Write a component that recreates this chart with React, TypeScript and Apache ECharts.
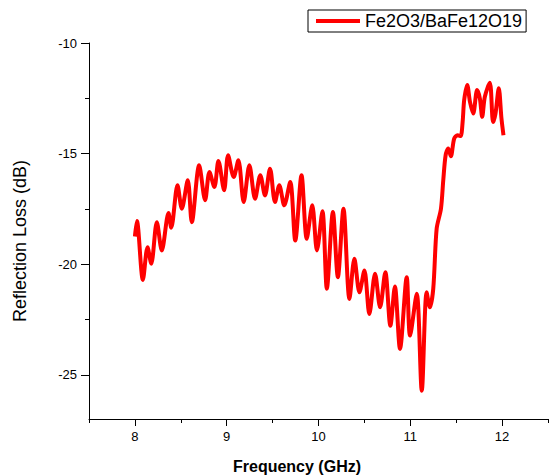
import React, { useEffect, useRef } from "react";
import * as echarts from "echarts";

const frequencyGHz = [
  8.0, 8.022, 8.087, 8.138, 8.178, 8.239, 8.293, 8.366, 8.396, 8.464, 8.511, 8.576, 8.62, 8.7, 8.765,
  8.812, 8.866, 8.91, 8.972, 9.015, 9.076, 9.127, 9.185, 9.247, 9.309, 9.366, 9.417, 9.472, 9.526,
  9.573, 9.627, 9.692, 9.747, 9.815, 9.872, 9.932, 9.983, 10.043, 10.091, 10.157, 10.211, 10.272,
  10.337, 10.391, 10.446, 10.5, 10.554, 10.616, 10.671, 10.728, 10.783, 10.832, 10.888, 10.961,
  10.997, 11.07, 11.125, 11.178, 11.213, 11.25, 11.287, 11.334, 11.359, 11.385, 11.413, 11.442,
  11.478, 11.515, 11.548, 11.57, 11.587, 11.62, 11.65, 11.685, 11.728, 11.758, 11.783, 11.812,
  11.866, 11.902, 11.928, 11.964, 11.993, 12.015,
];

const reflectionLossDb = [
  -18.75, -18.05, -20.71, -19.23, -19.98, -18.1, -19.38, -17.69, -18.35, -16.43, -17.49, -16.21,
  -18.1, -15.53, -17.11, -15.83, -16.51, -15.33, -16.66, -15.07, -16.06, -15.3, -17.19, -15.53,
  -17.04, -15.98, -16.89, -15.68, -17.19, -16.43, -17.34, -16.28, -18.93, -15.98, -18.85, -17.34,
  -19.38, -17.61, -21.11, -17.64, -20.59, -17.49, -21.57, -19.76, -21.27, -20.29, -22.25, -20.43,
  -21.95, -20.36, -22.78, -21.01, -23.83, -20.59, -23.23, -21.34, -25.72, -21.27, -21.95, -21.11,
  -18.4, -17.49, -16.21, -15.07, -14.77, -15.12, -14.32, -14.17, -14.21, -13.57, -12.58, -11.9,
  -12.66, -13.19, -12.13, -12.51, -13.34, -12.43, -11.8, -13.57, -13.19, -12.05, -13.41, -14.17,
];

const xMajorTicks = [8, 9, 10, 11, 12];
const xMinorTicks = [7.5, 8.5, 9.5, 10.5, 11.5, 12.5];
const yMajorTicks = [-25, -20, -15, -10];
const yMinorTicks = [-22.5, -17.5, -12.5];

const seriesName = "Fe2O3/BaFe12O19";
const xTitle = "Frequency (GHz)";
const yTitle = "Reflection Loss (dB)";

const FONT = "'Liberation Sans', Arial, sans-serif";

export default function App() {
  const ref = useRef<HTMLDivElement>(null);

  useEffect(() => {
    if (!ref.current) return;
    const chart = echarts.init(ref.current, undefined, { renderer: "svg" });
    const data = frequencyGHz.map((f, i) => [f, reflectionLossDb[i]]);

    const axisCommon = {
      type: "value" as const,
      splitLine: { show: false },
    };

    chart.setOption({
      animation: false,
      backgroundColor: "#fff",
      textStyle: { fontFamily: FONT },
      grid: { left: 89, right: 2, top: 43, bottom: 57, containLabel: false },
      legend: {
        left: 308,
        top: 10,
        orient: "horizontal",
        itemWidth: 44,
        itemHeight: 4,
        itemGap: 5,
        padding: [2, 4, 2, 8],
        borderColor: "#000",
        borderWidth: 1,
        backgroundColor: "#fff",
        textStyle: { fontSize: 18, color: "#000", fontFamily: FONT, padding: [0, 0, 0, 0] },
        data: [{ name: seriesName, icon: "rect", itemStyle: { color: "#ff0000" } }],
      },
      xAxis: [
        {
          ...axisCommon,
          min: 7.5,
          max: 12.5,
          position: "bottom",
          axisLine: { show: true, onZero: false, lineStyle: { color: "#000", width: 1 } },
          axisTick: { show: true, length: 7, customValues: xMajorTicks, lineStyle: { color: "#000" } },
          axisLabel: {
            show: true,
            customValues: xMajorTicks,
            margin: 11,
            fontSize: 13,
            color: "#000",
            fontFamily: FONT,
          },
        },
        {
          ...axisCommon,
          min: 7.5,
          max: 12.5,
          position: "bottom",
          offset: 0,
          axisLine: { show: false, onZero: false },
          axisTick: { show: true, length: 4, customValues: xMinorTicks, lineStyle: { color: "#000" } },
          axisLabel: { show: false },
        },
      ],
      yAxis: [
        {
          ...axisCommon,
          min: -27,
          max: -10,
          position: "left",
          axisLine: { show: true, onZero: false, lineStyle: { color: "#000", width: 1 } },
          axisTick: { show: true, length: 8, customValues: yMajorTicks, lineStyle: { color: "#000" } },
          axisLabel: {
            show: true,
            customValues: yMajorTicks,
            margin: 12,
            fontSize: 13,
            color: "#000",
            fontFamily: FONT,
          },
        },
        {
          ...axisCommon,
          min: -27,
          max: -10,
          position: "left",
          offset: 0,
          axisLine: { show: false, onZero: false },
          axisTick: { show: true, length: 4, customValues: yMinorTicks, lineStyle: { color: "#000" } },
          axisLabel: { show: false },
        },
      ],
      series: [
        {
          name: seriesName,
          type: "line",
          xAxisIndex: 0,
          yAxisIndex: 0,
          data,
          showSymbol: false,
          symbol: "none",
          smooth: 0.3,
          lineStyle: { color: "#ff0000", width: 4 },
          itemStyle: { color: "#ff0000" },
        },
      ],
      graphic: [
        {
          type: "text",
          x: 20,
          y: 241,
          rotation: Math.PI / 2,
          style: {
            text: yTitle,
            fontSize: 18,
            fontFamily: FONT,
            fill: "#000",
            textAlign: "center",
            textVerticalAlign: "middle",
          },
        },
        {
          type: "text",
          x: 297,
          y: 466,
          style: {
            text: xTitle,
            fontSize: 16,
            fontWeight: "bold",
            fontFamily: FONT,
            fill: "#000",
            textAlign: "center",
            textVerticalAlign: "middle",
          },
        },
      ],
    });

    return () => chart.dispose();
  }, []);

  return (
    <div
      ref={ref}
      style={{ position: "fixed", left: 0, top: 0, width: 550, height: 476, background: "#fff" }}
    />
  );
}
